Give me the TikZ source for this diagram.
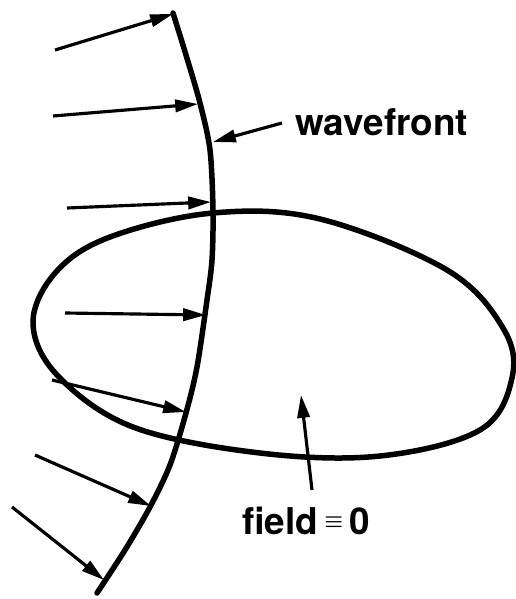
\documentclass[tikz,border=0pt]{standalone}
\usepackage{fontspec}
\setmainfont{TeX Gyre Heros}
\usetikzlibrary{arrows.meta}
\begin{document}
\begin{tikzpicture}[x=0.02cm,y=-0.02cm,
  front/.style={line width=0.11cm,line cap=round,line join=round},
  ray/.style={line width=1.8pt,-{Triangle[length=13pt,width=7pt]}},
  lbl/.style={font=\fontsize{21}{25}\selectfont\bfseries\boldmath,inner sep=0pt,anchor=base west}]
  \useasboundingbox (0,0) rectangle (516,599);
  % wavefront
  \draw[front] plot[smooth] coordinates {(173,13) (186,55) (200,103) (210,150)
    (213,210) (212,260) (207,300) (197,367) (186,413) (170,465) (150,507)
    (125,550) (97,593)};
  % region with zero field
  \draw[front] plot[smooth cycle,tension=0.6] coordinates {(33,323) (56,272) (110,237)
    (213,213) (320,219) (447,270) (503,328) (512,378) (480,430) (380,456)
    (260,453) (133,427) (58,376)};
  % incoming rays
  \coordinate (s1) at (55,50);   \coordinate (t1) at (173,14);
  \coordinate (s2) at (53,116);  \coordinate (t2) at (198,104);
  \coordinate (s3) at (67,208);  \coordinate (t3) at (211,202);
  \coordinate (s4) at (65,313);  \coordinate (t4) at (206,315);
  \coordinate (s5) at (52,380);  \coordinate (t5) at (186,412);
  \coordinate (s6) at (35,455);  \coordinate (t6) at (151,506);
  \coordinate (s7) at (12,507);  \coordinate (t7) at (104,580);
  \foreach \i in {1,...,7}
    \draw[ray] (s\i) -- (t\i);
  % labels
  \node[lbl] (wave) at (295,135) {wavefront};
  \node[lbl] (field) at (242,534) {field\,\raisebox{3.5pt}{\fontsize{13}{15}\selectfont$\equiv$}\,0};
  \coordinate (wt) at (282,123); \coordinate (wh) at (213,142);
  \coordinate (ft) at (312,490); \coordinate (fh) at (301,395);
  \draw[ray] (wt) -- (wh);
  \draw[ray] (ft) -- (fh);
\end{tikzpicture}
\end{document}
